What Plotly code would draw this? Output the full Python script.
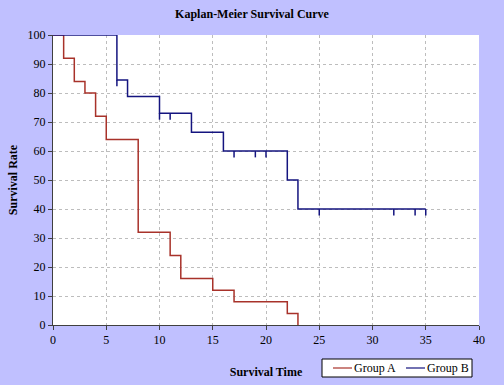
import plotly.graph_objects as go

# Group A (Kaplan-Meier step data)
time_a = [0, 1, 2, 3, 4, 5, 8, 11, 12, 15, 17, 22, 23]
surv_a = [100, 92, 84, 80, 72, 64, 32, 24, 16, 12, 8, 4, 0]

# Group B
time_b = [0, 6, 7, 10, 13, 16, 22, 23, 35]
surv_b = [100, 84.5, 78.8, 73, 66.5, 60, 50, 40, 40]

# Censored observations in Group B (time, survival level)
cens_t_b = [6, 10, 11, 17, 19, 20, 25, 32, 34, 35]
cens_s_b = [84.5, 73, 73, 60, 60, 60, 40, 40, 40, 40]

series_names = ["Group A", "Group B"]
x_ticks = [0, 5, 10, 15, 20, 25, 30, 35, 40]
y_ticks = [0, 10, 20, 30, 40, 50, 60, 70, 80, 90, 100]

RED = "#A8322A"
NAVY = "#14147F"
TICK_LEN = 2.2

W, H = 504, 385
ML, MR, MT, MB = 53, 25, 35, 60
PW, PH = W - ML - MR, H - MT - MB


def px_x(p):  # pixel -> paper x
    return (p - ML) / PW


def px_y(p):  # pixel -> paper y
    return (H - MB - p) / PH


cx, cy = [], []
for t, s in zip(cens_t_b, cens_s_b):
    cx += [t, t, None]
    cy += [s, s - TICK_LEN, None]

fig = go.Figure()
fig.add_trace(go.Scatter(x=time_a, y=surv_a, mode="lines", line_shape="hv",
                         line=dict(color=RED, width=1.5), name=series_names[0],
                         showlegend=False))
fig.add_trace(go.Scatter(x=time_b, y=surv_b, mode="lines", line_shape="hv",
                         line=dict(color=NAVY, width=1.5), name=series_names[1],
                         showlegend=False))
fig.add_trace(go.Scatter(x=cx, y=cy, mode="lines", line=dict(color=NAVY, width=1.5),
                         showlegend=False, hoverinfo="skip", name="censored"))

serif = "Liberation Serif, Times New Roman, serif"

# Legend box built from layout shapes/annotations (Excel-style compact legend)
shapes = [dict(type="rect", xref="paper", yref="paper",
               x0=px_x(322), x1=px_x(472), y0=px_y(377), y1=px_y(359),
               fillcolor="white", line=dict(color="black", width=1), layer="above")]
annotations = []
legend_specs = [(series_names[0], RED, 333), (series_names[1], NAVY, 406)]
for name, col, start in legend_specs:
    shapes.append(dict(type="line", xref="paper", yref="paper",
                       x0=px_x(start), x1=px_x(start + 19), y0=px_y(368), y1=px_y(368),
                       line=dict(color=col, width=1.2), layer="above"))
    annotations.append(dict(text=name, xref="paper", yref="paper",
                            x=px_x(start + 19), y=px_y(368), xanchor="left",
                            yanchor="middle", showarrow=False,
                            font=dict(size=12, family=serif, color="black")))

fig.update_layout(
    width=W, height=H,
    margin=dict(l=ML, r=MR, t=MT, b=MB, autoexpand=False),
    paper_bgcolor="#C0C0FF",
    plot_bgcolor="white",
    font=dict(family=serif, size=12, color="black"),
    title=dict(text="<b>Kaplan-Meier Survival Curve</b>", x=0.5, xanchor="center",
               y=1 - 14 / H, yanchor="middle", font=dict(size=12, family=serif)),
    showlegend=False,
    shapes=shapes,
    annotations=annotations,
)
fig.update_xaxes(range=[0, 40], tickvals=x_ticks, ticks="outside", ticklen=4,
                 tickcolor="#404040", showline=True, linecolor="#404040", linewidth=1,
                 showgrid=True, gridcolor="#BDBDBD", griddash="dot", gridwidth=1,
                 zeroline=False, automargin=False,
                 title=dict(text="<b>Survival Time</b>", standoff=21, font=dict(size=12)),
                 tickfont=dict(size=12))
fig.update_yaxes(range=[0, 100], tickvals=y_ticks, ticks="outside", ticklen=4,
                 tickcolor="#404040", showline=True, linecolor="#404040", linewidth=1,
                 showgrid=True, gridcolor="#BDBDBD", griddash="dot", gridwidth=1,
                 zeroline=False, automargin=False,
                 title=dict(text="<b>Survival Rate</b>", standoff=7, font=dict(size=12)),
                 tickfont=dict(size=12))

fig.write_html("out.html", config={"displayModeBar": False},
               post_script="document.body.style.margin='0px';document.body.style.padding='0px';")
